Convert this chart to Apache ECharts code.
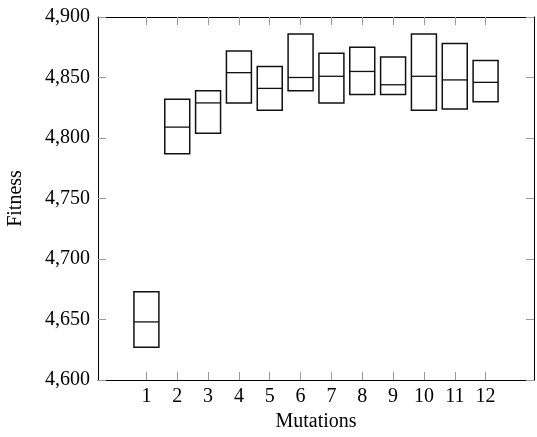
<!DOCTYPE html>
<html>
<head>
<meta charset="utf-8">
<script src="https://cdn.jsdelivr.net/npm/echarts@6/dist/echarts.min.js"></script>
<style>
html,body{margin:0;padding:0;background:#fff;}
#chart{width:537px;height:437px;}
</style>
</head>
<body>
<div id="chart"></div>
<script>
// ---- Data ----
var categories = [1, 2, 3, 4, 5, 6, 7, 8, 9, 10, 11, 12];
var lowerValues = [4627, 4787, 4804, 4829, 4823, 4839, 4829, 4836, 4836, 4823, 4824, 4830];
var medianValues = [4648, 4809, 4829, 4854, 4841, 4850, 4851, 4855, 4844, 4851, 4848, 4846];
var upperValues = [4673, 4832, 4839, 4872, 4859, 4886, 4870, 4875, 4867, 4886, 4878, 4864];
var yTicks = [4600, 4650, 4700, 4750, 4800, 4850, 4900];
var xName = 'Mutations';
var yName = 'Fitness';

// ---- Build ----
var boxData = categories.map(function (c, i) {
  return [c, lowerValues[i], medianValues[i], upperValues[i]];
});
var BOX_W = 0.81;
var FONT = 'Liberation Serif';

var chart = echarts.init(document.getElementById('chart'), null, {renderer: 'canvas'});

function fmt(v) {
  return Number(v).toLocaleString('en-US');
}

function tickStyle() {
  return {show: true, inside: true, length: 8, lineStyle: {color: '#999', width: 1}};
}
function lineStyle() {
  return {show: true, onZero: false, lineStyle: {color: '#000', width: 1}};
}

chart.setOption({
  animation: false,
  backgroundColor: '#fff',
  grid: {left: 98, right: 3, top: 17, bottom: 57, containLabel: false, outerBoundsMode: 'none'},
  xAxis: [{
    type: 'value', position: 'bottom', min: -0.57, max: 13.57,
    name: xName, nameLocation: 'middle', nameGap: 30,
    nameTextStyle: {fontFamily: FONT, fontSize: 20, color: '#000'},
    axisLine: lineStyle(),
    axisTick: Object.assign({customValues: categories}, tickStyle()),
    axisLabel: {customValues: categories, fontFamily: FONT, fontSize: 20, color: '#000', margin: 7},
    splitLine: {show: false}
  }, {
    type: 'value', position: 'top', min: -0.57, max: 13.57,
    axisLine: lineStyle(),
    axisTick: Object.assign({customValues: categories}, tickStyle()),
    axisLabel: {show: false},
    splitLine: {show: false}
  }],
  yAxis: [{
    type: 'value', position: 'left', min: 4600, max: 4900, interval: 50,
    name: yName, nameLocation: 'middle', nameGap: 72,
    nameTextStyle: {fontFamily: FONT, fontSize: 20, color: '#000'},
    axisLine: lineStyle(),
    axisTick: Object.assign({customValues: yTicks}, tickStyle()),
    axisLabel: {customValues: yTicks, fontFamily: FONT, fontSize: 20, color: '#000', margin: 8, formatter: fmt},
    splitLine: {show: false}
  }, {
    type: 'value', position: 'right', min: 4600, max: 4900, interval: 50,
    axisLine: lineStyle(),
    axisTick: Object.assign({customValues: yTicks}, tickStyle()),
    axisLabel: {show: false},
    splitLine: {show: false}
  }],
  series: [{
    type: 'custom',
    xAxisIndex: 0, yAxisIndex: 0,
    data: boxData,
    encode: {x: 0, y: [1, 2, 3]},
    renderItem: function (params, api) {
      var x = api.value(0);
      var pLo = api.coord([x, api.value(1)]);
      var pMed = api.coord([x, api.value(2)]);
      var pHi = api.coord([x, api.value(3)]);
      var w = api.size([BOX_W, 0])[0];
      return {
        type: 'group',
        children: [{
          type: 'rect',
          shape: {x: pHi[0] - w / 2, y: pHi[1], width: w, height: pLo[1] - pHi[1]},
          style: {fill: 'none', stroke: '#111', lineWidth: 1.5}
        }, {
          type: 'line',
          shape: {x1: pMed[0] - w / 2, y1: pMed[1], x2: pMed[0] + w / 2, y2: pMed[1]},
          style: {stroke: '#111', lineWidth: 1.3}
        }]
      };
    }
  }]
});
</script>
</body>
</html>
